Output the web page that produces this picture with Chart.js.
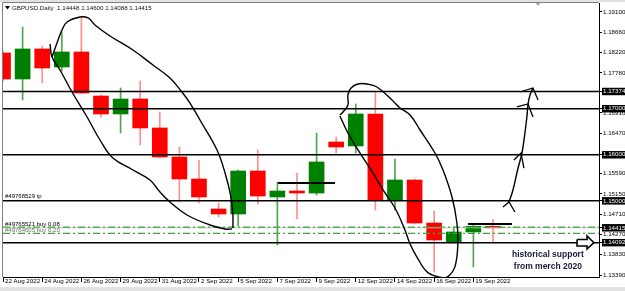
<!DOCTYPE html>
<html>
<head>
<meta charset="utf-8">
<script src="https://cdn.jsdelivr.net/npm/chart.js@4.4.1/dist/chart.umd.min.js"></script>
<style>
  html, body { margin: 0; padding: 0; background: #fff; }
</style>
</head>
<body>
<canvas id="c" width="625" height="291"></canvas>
<script>
/* GBPUSD daily — hand-annotated MT4 screenshot */

// ── candles (broker prints Sunday bars) ──
const dates = ['22 Aug 2022', '23 Aug 2022', '24 Aug 2022', '25 Aug 2022', '26 Aug 2022', '28 Aug 2022',
  '29 Aug 2022', '30 Aug 2022', '31 Aug 2022', '1 Sep 2022', '2 Sep 2022', '4 Sep 2022', '5 Sep 2022',
  '6 Sep 2022', '7 Sep 2022', '8 Sep 2022', '9 Sep 2022', '11 Sep 2022', '12 Sep 2022', '13 Sep 2022',
  '14 Sep 2022', '15 Sep 2022', '16 Sep 2022', '18 Sep 2022', '19 Sep 2022', '20 Sep 2022'];
const opens  = [1.18210, 1.17645, 1.18297, 1.17906, 1.18232, 1.17276, 1.16886, 1.17211, 1.16582, 1.15952,
  1.15474, 1.14823, 1.14715, 1.15648, 1.15084, 1.15214, 1.15170, 1.16278, 1.16191, 1.16886,
  1.15019, 1.15453, 1.14519, 1.14107, 1.14324, 1.14448];
const highs  = [1.18250, 1.18774, 1.18362, 1.18666, 1.18991, 1.17298, 1.17450, 1.17602, 1.16929, 1.16169,
  1.15887, 1.14953, 1.15670, 1.16104, 1.15409, 1.15605, 1.16473, 1.16386, 1.17103, 1.17350,
  1.15909, 1.15474, 1.14780, 1.14432, 1.14476, 1.14600];
const lows   = [1.17600, 1.17190, 1.17559, 1.17819, 1.17330, 1.16820, 1.16473, 1.16213, 1.15930, 1.14975,
  1.14953, 1.14649, 1.14454, 1.14932, 1.14042, 1.14606, 1.15127, 1.16039, 1.16039, 1.14801,
  1.14801, 1.14497, 1.13454, 1.14085, 1.13564, 1.14088];
const closes = [1.17645, 1.18297, 1.17884, 1.18232, 1.17341, 1.16886, 1.17211, 1.16582, 1.15952, 1.15474,
  1.15084, 1.14715, 1.15648, 1.15105, 1.15214, 1.15170, 1.15844, 1.16169, 1.16886, 1.15019,
  1.15453, 1.14519, 1.14150, 1.14324, 1.14448, 1.14415];

// ── axis ──
const yTicks  = [1.19100, 1.18660, 1.18220, 1.17780, 1.16910, 1.16470, 1.15590, 1.15150, 1.14710, 1.14270, 1.13830, 1.13390];
const levels  = [1.17374, 1.17000, 1.16000, 1.15000, 1.14092];
const bid     = 1.14415;
const xTickIdx = [0, 2, 4, 6, 8, 10, 12, 14, 16, 18, 20, 22, 24];
const X_MIN = 0, X_MAX = 30.41;
const Y_MIN = 1.13347, Y_MAX = 1.19295;

// ── orders ──
const orderLabels = ['#49768529 tp', '#49765521 buy 0.08', '#49764605 buy 0.20'];
const orderPrices = [1.15000, 1.14430, 1.14295];

// ── hand drawings, [bar index, price] ──
const loopLeftInner = [[2.40, 1.18405], [2.50, 1.18123], [2.91, 1.17841], [3.52, 1.17363], [4.29, 1.16820],
  [4.95, 1.16321], [5.61, 1.15930], [6.63, 1.15670], [7.50, 1.15453], [8.01, 1.15192], [8.52, 1.14975],
  [9.39, 1.14693], [10.56, 1.14476], [11.33, 1.14389], [11.68, 1.14389]];
const loopLeftOuter = [[2.50, 1.18123], [2.81, 1.18492], [3.01, 1.18709], [3.27, 1.18883], [3.93, 1.18991],
  [4.34, 1.18970], [4.69, 1.18818], [5.46, 1.18579], [6.63, 1.18275], [7.65, 1.17949], [8.52, 1.17667],
  [9.13, 1.17363], [9.54, 1.17124], [10.05, 1.16755], [10.92, 1.16104], [11.33, 1.15605], [11.63, 1.15084],
  [11.73, 1.14693], [11.73, 1.14411]];
const loopRight = [[17.19, 1.16842], [17.60, 1.16473], [18.21, 1.16039], [18.88, 1.15605], [19.39, 1.15236],
  [20.00, 1.14845], [20.51, 1.14367], [20.77, 1.14063], [21.12, 1.13781], [21.68, 1.13442], [22.40, 1.13334],
  [22.70, 1.13355], [23.06, 1.13573], [23.21, 1.14085], [23.16, 1.14519], [22.91, 1.15084], [22.45, 1.15670],
  [22.04, 1.16039], [21.28, 1.16538], [20.77, 1.16864], [20.26, 1.17016], [19.85, 1.17190], [19.08, 1.17472],
  [18.57, 1.17537], [18.11, 1.17537], [17.76, 1.17450], [17.60, 1.17298], [17.60, 1.17081], [17.35, 1.16929],
  [17.19, 1.16864]];
const upPath = [[25.82, 1.14975], [26.02, 1.15236], [26.28, 1.15713], [26.48, 1.16039], [26.63, 1.16473],
  [26.73, 1.16820], [26.79, 1.17103], [26.89, 1.17298], [27.04, 1.17450]];
const heads = [
  [[25.51, 1.14867], [25.82, 1.14975], [26.12, 1.14758]],
  [[26.07, 1.15887], [26.43, 1.16039], [26.58, 1.15713]],
  [[26.22, 1.17038], [26.79, 1.17103], [27.04, 1.16820]],
  [[26.38, 1.17363], [27.04, 1.17450], [27.30, 1.17190]],
];
const flatMarks = [
  [[14.03, 1.15388], [16.94, 1.15388]],
  [[23.72, 1.14497], [25.97, 1.14497]],
];
const hollowArrow = [[29.29, 1.14161], [29.80, 1.14161], [29.80, 1.14237], [30.15, 1.14092],
  [29.80, 1.13955], [29.80, 1.14020], [29.29, 1.14020], [29.29, 1.14161]];
const noteLines  = ['historical support', 'from merch 2020'];
const noteX      = 27.8;
const notePrices = [1.13825, 1.13564];

// ══════════════════════════════════════════════════════════════════
const FONT = 'Liberation Sans, Arial, sans-serif';
const idx  = dates.map((_, i) => i);
const up   = idx.map(i => closes[i] >= opens[i]);
const boxed = [...levels, bid];

const pts = a => a.map(([x, y]) => ({x, y}));
const pen = (a, extra) => Object.assign({
  type: 'line', data: pts(a), borderColor: '#000', borderWidth: 1.4,
  pointRadius: 0, tension: 0.4, fill: false, order: 0,
}, extra || {});

const datasets = [
  // drawings on top
  pen(hollowArrow, {tension: 0, borderWidth: 1.6, fill: 'shape', backgroundColor: '#fff'}),
  pen(loopLeftInner), pen(loopLeftOuter), pen(loopRight), pen(upPath),
  ...heads.map(h => pen(h, {tension: 0, borderWidth: 1.3})),
  ...flatMarks.map(m => pen(m, {tension: 0, borderWidth: 2})),
  ...levels.map(v => pen([[X_MIN, v], [X_MAX, v]], {tension: 0, borderWidth: 1.5})),
  ...orderPrices.slice(1).map(v => pen([[X_MIN, v], [X_MAX, v]],
    {tension: 0, borderWidth: 1.2, borderColor: '#3ea33e', borderDash: [7, 3, 2, 3]})),
  pen([[X_MIN, bid], [X_MAX, bid]], {tension: 0, borderWidth: 1, borderColor: '#c4c4c4', order: 1}),
  {
    type: 'bar', order: 2, grouped: false, barThickness: 15, clip: 0,
    data: idx.map(i => ({x: i, y: [opens[i], closes[i]]})),
    backgroundColor: up.map(u => u ? '#008000' : '#ff0000'),
  },
  {
    type: 'bar', order: 3, grouped: false, barThickness: 1, clip: 0,
    data: idx.map(i => ({x: i, y: [lows[i], highs[i]]})),
    backgroundColor: up.map(u => u ? '#4fa64f' : '#ff8e8e'),
  },
];

const overlay = {
  id: 'overlay',
  beforeDraw(chart) {
    const {ctx, width, height} = chart;
    ctx.save();
    ctx.fillStyle = '#fff';
    ctx.fillRect(0, 0, width, height);
    ctx.fillStyle = '#e2e2e2';
    ctx.fillRect(0, 0, width, 2);
    ctx.fillRect(0, 287, width, 4);
    ctx.restore();
  },
  afterDatasetsDraw(chart) {
    const {ctx, chartArea: a, scales: {x, y}} = chart;
    const n = closes.length - 1;
    ctx.save();
    // frame
    ctx.strokeStyle = '#808080';
    ctx.lineWidth = 1;
    ctx.beginPath();
    ctx.moveTo(a.left - 0.5, a.bottom);
    ctx.lineTo(a.left - 0.5, a.top - 0.5);
    ctx.lineTo(a.right, a.top - 0.5);
    ctx.stroke();
    // header
    ctx.fillStyle = '#000';
    ctx.beginPath();
    ctx.moveTo(5, 6); ctx.lineTo(10, 6); ctx.lineTo(7.5, 9.5); ctx.closePath();
    ctx.fill();
    ctx.font = '6.2px ' + FONT;
    ctx.textBaseline = 'middle';
    ctx.textAlign = 'left';
    ctx.fillStyle = '#111';
    ctx.fillText(`GBPUSD.Daily  ${opens[n].toFixed(5)} ${highs[n].toFixed(5)} ${lows[n].toFixed(5)} ${closes[n].toFixed(5)}`, 12, 8);
    // chart shift marker
    ctx.fillStyle = '#a8a8a8';
    const sx = x.getPixelForValue(27.3);
    ctx.beginPath();
    ctx.moveTo(sx - 2.5, a.top); ctx.lineTo(sx + 2.5, a.top); ctx.lineTo(sx, a.top + 3); ctx.closePath();
    ctx.fill();
    // order labels
    ctx.font = '6px ' + FONT;
    ctx.textBaseline = 'bottom';
    orderLabels.forEach((t, i) => {
      ctx.fillStyle = i === 2 ? '#6f6f6f' : '#000';
      ctx.fillText(t, 5, y.getPixelForValue(orderPrices[i]) - (i === 0 ? 1.5 : 0));
    });
    // note
    ctx.font = 'bold 8.5px ' + FONT;
    ctx.fillStyle = '#17173a';
    ctx.textAlign = 'center';
    ctx.textBaseline = 'middle';
    noteLines.forEach((t, i) => ctx.fillText(t, x.getPixelForValue(noteX), y.getPixelForValue(notePrices[i])));
    ctx.restore();
  },
};

new Chart(document.getElementById('c').getContext('2d'), {
  type: 'bar',
  data: {datasets},
  options: {
    responsive: false, animation: false,
    layout: {padding: {left: 3, top: 3, right: 0, bottom: 4}},
    plugins: {legend: {display: false}, tooltip: {enabled: false}},
    scales: {
      x: {
        type: 'linear', min: X_MIN, max: X_MAX, offset: false,
        afterBuildTicks: s => { s.ticks = xTickIdx.map(v => ({value: v})); },
        afterFit: s => { s.height = 10; s.paddingLeft = 0; s.paddingRight = 0; },
        grid: {drawOnChartArea: false, offset: false, tickLength: 5, color: '#000'},
        border: {display: true, color: '#000'},
        ticks: {
          autoSkip: false, maxRotation: 0, align: 'start', padding: -4, labelOffset: 2,
          font: {family: FONT, size: 6.2}, color: '#000',
          callback: v => dates[v],
        },
      },
      y: {
        type: 'linear', position: 'right', min: Y_MIN, max: Y_MAX,
        afterBuildTicks: s => { s.ticks = [...yTicks, ...boxed].map(v => ({value: v})); },
        afterFit: s => { s.width = 26; s.paddingTop = 0; s.paddingBottom = 0; },
        grid: {drawOnChartArea: false, tickLength: 3, color: '#000'},
        border: {display: true, color: '#000'},
        ticks: {
          autoSkip: false, padding: 1,
          font: {family: FONT, size: 6.2},
          color: c => boxed.includes(c.tick.value) ? '#fff' : '#000',
          showLabelBackdrop: c => boxed.includes(c.tick.value),
          backdropColor: '#000',
          backdropPadding: {left: 1, right: 3, top: 0, bottom: 0},
          callback: v => v.toFixed(5),
        },
      },
    },
  },
  plugins: [overlay],
});
</script>
</body>
</html>
